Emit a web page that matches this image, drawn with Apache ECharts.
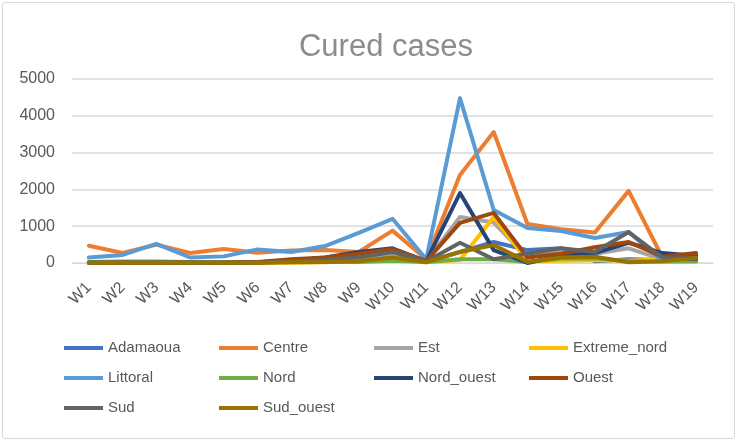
<!DOCTYPE html>
<html>
<head>
<meta charset="utf-8">
<script src="https://cdn.jsdelivr.net/npm/echarts@6/dist/echarts.min.js"></script>
<style>
html,body{margin:0;padding:0;background:#fff;}
#frame{position:absolute;left:2px;top:2px;width:733px;height:437px;border:1px solid #d9d9d9;border-radius:3px;box-sizing:border-box;}
#chart{position:absolute;left:0;top:0;width:740px;height:445px;}
</style>
</head>
<body>
<div id="frame"></div>
<div id="chart"></div>
<script>
const weeks = ['W1','W2','W3','W4','W5','W6','W7','W8','W9','W10','W11','W12','W13','W14','W15','W16','W17','W18','W19'];
const seriesNames = ['Adamaoua','Centre','Est','Extreme_nord','Littoral','Nord','Nord_ouest','Ouest','Sud','Sud_ouest'];
const adamaoua    = [20, 20, 20, 20, 20, 20, 40, 60, 100, 200, 30, 300, 570, 350, 400, 50, 100, 80, 150];
const centre      = [470, 270, 500, 270, 380, 280, 340, 350, 300, 880, 100, 2390, 3560, 1060, 920, 830, 1960, 150, 200];
const est         = [10, 10, 10, 10, 10, 10, 30, 60, 150, 250, 40, 1250, 1100, 150, 300, 250, 400, 100, 120];
const extremeNord = [5, 5, 5, 5, 5, 5, 10, 20, 60, 100, 20, 80, 1250, 50, 60, 80, 60, 100, 150];
const littoral    = [150, 220, 520, 150, 180, 370, 300, 460, 820, 1200, 100, 4480, 1440, 950, 870, 680, 840, 50, 60];
const nord        = [30, 40, 40, 30, 30, 30, 30, 30, 30, 60, 30, 100, 100, 30, 120, 130, 50, 40, 40];
const nordOuest   = [10, 10, 10, 10, 10, 20, 60, 150, 300, 400, 50, 1900, 350, 0, 200, 270, 550, 270, 200];
const ouest       = [10, 10, 10, 10, 10, 30, 100, 150, 250, 380, 50, 1090, 1360, 150, 250, 430, 570, 170, 270];
const sud         = [10, 10, 10, 10, 10, 10, 40, 80, 150, 300, 40, 550, 100, 250, 400, 300, 840, 150, 100];
const sudOuest    = [10, 10, 10, 10, 10, 10, 20, 30, 50, 150, 20, 300, 490, 30, 150, 170, 20, 50, 150];
const yTicks = [0, 1000, 2000, 3000, 4000, 5000];

const values = [adamaoua, centre, est, extremeNord, littoral, nord, nordOuest, ouest, sud, sudOuest];
const colors = ['#4472C4','#ED7D31','#A5A5A5','#FFC000','#5B9BD5','#70AD47','#264478','#9E480E','#636363','#997300'];

const chart = echarts.init(document.getElementById('chart'));
chart.setOption({
  animation: false,
  color: colors,
  title: {
    text: 'Cured cases',
    left: 381, top: 27, textAlign: 'center',
    textStyle: {color: '#8c8c8c', fontSize: 31, fontWeight: 'normal', fontFamily: 'Liberation Sans'}
  },
  grid: {left: 72, right: 27, top: 79, bottom: 182},
  xAxis: {
    type: 'category', data: weeks, boundaryGap: true,
    axisLine: {lineStyle: {color: '#d9d9d9', width: 1}},
    axisTick: {show: false},
    axisLabel: {rotate: 45, color: '#595959', fontSize: 16, fontFamily: 'Liberation Sans', margin: 22, interval: 0}
  },
  yAxis: {
    type: 'value', min: yTicks[0], max: yTicks[yTicks.length-1], interval: 1000,
    axisLine: {show: false}, axisTick: {show: false},
    axisLabel: {color: '#595959', fontSize: 16, fontFamily: 'Liberation Sans', margin: 17, formatter: v => String(v)},
    splitLine: {lineStyle: {color: '#d9d9d9', width: 1.5}}
  },
  legend: {
    left: 64, top: 333, width: 640, padding: 0, itemGap: 0,
    itemWidth: 39, itemHeight: 4, icon: 'rect',
    textStyle: {color: '#595959', fontSize: 15, fontFamily: 'Liberation Sans', width: 111, lineHeight: 30, height: 30},
    data: seriesNames
  },
  series: seriesNames.map((n, i) => ({
    name: n, type: 'line', data: values[i], showSymbol: false, symbol: 'none',
    lineStyle: {width: 4, cap: 'round', join: 'round'}
  }))
});
</script>
</body>
</html>
